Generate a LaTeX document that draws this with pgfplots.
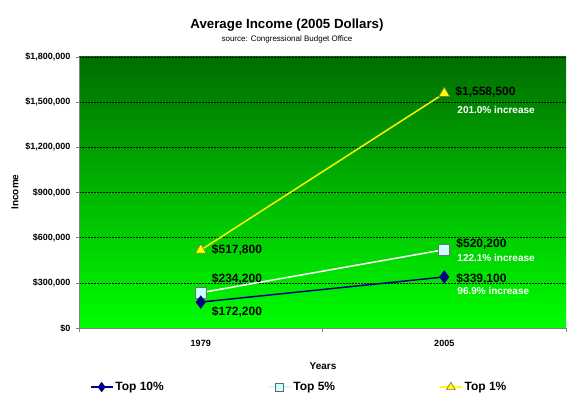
\documentclass[border=0pt]{standalone}
\usepackage{pgfplots}
\pgfplotsset{compat=1.18}
\usepackage{fontspec}
\setmainfont{Liberation Sans}
\definecolor{gtop}{RGB}{0,110,0}
\definecolor{gbot}{RGB}{0,255,0}
\definecolor{navyc}{RGB}{0,0,128}
\definecolor{cyanl}{RGB}{204,255,255}
\definecolor{yel}{RGB}{255,255,0}
\definecolor{axgray}{RGB}{128,128,128}
\begin{document}
\begin{tikzpicture}[x=1bp,y=1bp]
\begin{axis}[
  scale only axis, width=487bp, height=271bp,
  at={(0,0)}, anchor=south west,
  xmin=0, xmax=2, ymin=0, ymax=1800000,
  xtick={0.5,1.5}, xticklabels={1979,2005},
  minor xtick={0,1,2},
  ytick={0,300000,600000,900000,1200000,1500000,1800000},
  yticklabels={{\$0},{\$300,000},{\$600,000},{\$900,000},{\$1,200,000},{\$1,500,000},{\$1,800,000}},
  scaled y ticks=false,
  axis x line*=bottom, axis y line*=left,
  axis line style={axgray, line width=0.8bp},
  tick align=outside,
  x tick style={draw=none},
  minor x tick style={draw=axgray, line width=0.8bp},
  minor tick length=4bp,
  y tick style={draw=axgray, line width=0.6bp},
  major tick length=3bp,
  ymajorgrids,
  major grid style={black, line width=0.6bp, dash pattern=on 1.5bp off 1.5bp},
  axis background/.style={top color=gtop, bottom color=gbot},
  tick label style={font=\fontsize{9bp}{10.8bp}\selectfont\bfseries},
  xticklabel style={yshift=-6bp},
  yticklabel style={xshift=-2bp},
  /pgf/number format/assume math mode=true,
  legend columns=3,
  legend style={draw=none, fill=none, at={(0.452,-0.218)}, anchor=center,
    font=\fontsize{12bp}{14bp}\selectfont\bfseries,
    /tikz/every even column/.append style={column sep=102bp}},
  legend image code/.code={
    \draw[#1, mark repeat=2, mark phase=2] plot coordinates {(0bp,0bp) (11bp,0bp) (22bp,0bp)};
  },
  clip=false,
]
\addplot[yellow, line width=1.5bp, mark=triangle*, mark size=6.3bp,
  mark options={fill=yel, draw=black!60!yellow, line width=0.6bp}, forget plot]
  coordinates {(0.5,517800) (1.5,1558500)};
\addplot[white, line width=1.5bp, mark=square*, mark size=5.5bp,
  mark options={fill=cyanl, draw=black!55, line width=0.6bp}, forget plot]
  coordinates {(0.5,234200) (1.5,520200)};
\addplot[navyc, line width=1.5bp, mark=diamond*, mark size=5.5bp,
  mark options={fill=navyc, draw=navyc}, forget plot]
  coordinates {(0.5,172200) (1.5,339100)};

\addlegendimage{navyc, line width=1.5bp, mark=diamond*, mark size=4bp, mark options={fill=navyc}}
\addlegendentry{Top 10\%}
\addlegendimage{cyanl, line width=1.5bp, mark=square*, mark size=4bp, mark options={fill=cyanl, draw=black!60, line width=0.6bp}}
\addlegendentry{Top 5\%}
\addlegendimage{yel, line width=1.5bp, mark=triangle*, mark size=5bp, mark options={fill=yel, draw=black!60!yellow, line width=0.6bp}}
\addlegendentry{Top 1\%}

\tikzset{vl/.style={anchor=west, inner sep=0pt, font=\fontsize{12bp}{14bp}\selectfont\bfseries},
         il/.style={anchor=west, inner sep=0pt, text=white, font=\fontsize{10bp}{12bp}\selectfont\bfseries}}
\node[vl, xshift=11bp, yshift=0bp] at (axis cs:0.5,517800) {\$517,800};
\node[vl, xshift=11bp, yshift=14bp] at (axis cs:0.5,234200) {\$234,200};
\node[vl, xshift=11bp, yshift=-10bp] at (axis cs:0.5,172200) {\$172,200};
\node[vl, xshift=11bp, yshift=1bp] at (axis cs:1.5,1558500) {\$1,558,500};
\node[il, xshift=13bp, yshift=-17bp] at (axis cs:1.5,1558500) {201.0\% increase};
\node[vl, xshift=12bp, yshift=6bp] at (axis cs:1.5,520200) {\$520,200};
\node[il, xshift=13bp, yshift=-8bp] at (axis cs:1.5,520200) {122.1\% increase};
\node[vl, xshift=12bp, yshift=-2bp] at (axis cs:1.5,339100) {\$339,100};
\node[il, xshift=13bp, yshift=-14bp] at (axis cs:1.5,339100) {96.9\% increase};
\end{axis}
\node[font=\fontsize{13.3bp}{16bp}\selectfont\bfseries] at (208,303) {Average Income (2005 Dollars)};
\node[font=\fontsize{8bp}{10bp}\selectfont] at (208,289) {source: Congressional Budget Office};
\node[font=\fontsize{10bp}{12bp}\selectfont\bfseries] at (244,-38) {Years};
\node[font=\fontsize{10bp}{12bp}\selectfont\bfseries, rotate=90] at (-64,136) {Income};
\pgfresetboundingbox
\path (-79,-64) rectangle (496,328);
\end{tikzpicture}
\end{document}
